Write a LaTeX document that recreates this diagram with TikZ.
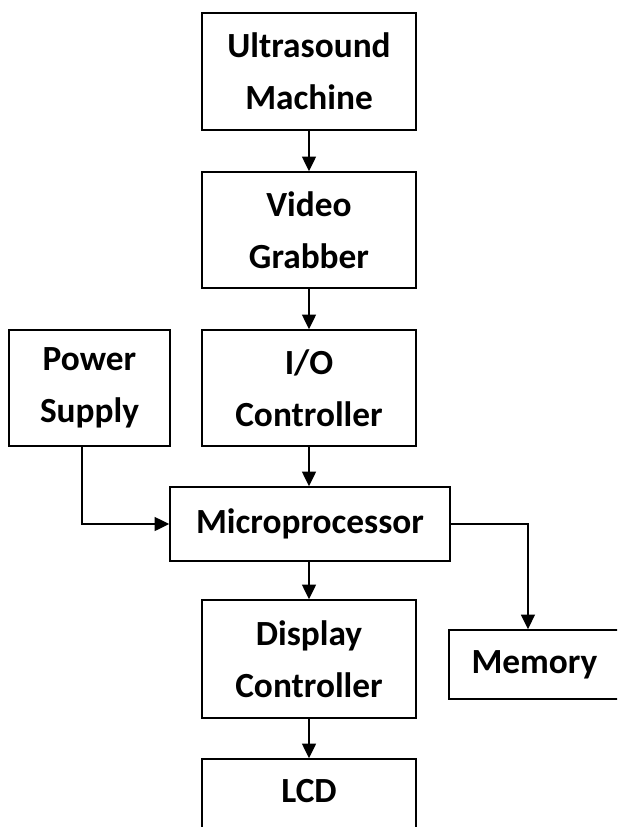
\documentclass[tikz,border=0pt]{standalone}
\usepackage{fontspec}
\setmainfont{Carlito}
\usetikzlibrary{arrows.meta}

\tikzset{
	block/.style={draw, line width=1.2pt, align=center, inner sep=0pt,
		font={\fontsize{26.5}{39}\selectfont\bfseries}},
	wire/.style={line width=1.2pt, -{Triangle[length=11pt,width=10.5pt]}},
}

\begin{document}
\begin{tikzpicture}[x=0.75pt, y=-0.75pt]
			%%%%% START %%%%%
			
			\useasboundingbox (0, 0) rectangle (617, 827);
			\clip (0, 0) rectangle (617, 827);
			
			% main column
			\node[block, minimum width=160.5pt, minimum height=87.75pt] (ultra) at (309, 71.5) {Ultrasound\\Machine};
			\node[block, minimum width=160.5pt, minimum height=87pt] (grab) at (309, 230) {Video\\Grabber};
			\node[block, minimum width=160.5pt, minimum height=87pt] (ioc) at (309, 388) {I/O\\Controller};
			\node[block, minimum width=120.75pt, minimum height=87pt] (psu) at (89.5, 388) {Power\\Supply};
			\node[block, minimum width=210pt, minimum height=55.5pt] (micro) at (310, 524) {Microprocessor};
			\node[block, minimum width=160.5pt, minimum height=88.5pt] (disp) at (309, 659) {Display\\Controller};
			\node[block, minimum width=160.5pt, minimum height=87pt, text depth=39pt] (lcd) at (309, 817) {LCD};
			\node[block, minimum width=128.25pt, minimum height=51.75pt] (mem) at (534.5, 664.5) {Memory};
			
			% connections
			\draw[wire] (ultra.south) -- (grab.north);
			\draw[wire] (grab.south) -- (ioc.north);
			\draw[wire] (ioc.south) -- (ioc.south |- micro.north);
			\draw[wire] ([xshift=-5.6pt]psu.south) |- (micro.west);
			\draw[wire] (disp.north |- micro.south) -- (disp.north);
			\draw[wire] (disp.south) -- (lcd.north);
			\draw[wire] (micro.east) -| ([xshift=-4.9pt]mem.north);
			
			%%%%% END %%%%%
\end{tikzpicture}
\end{document}
